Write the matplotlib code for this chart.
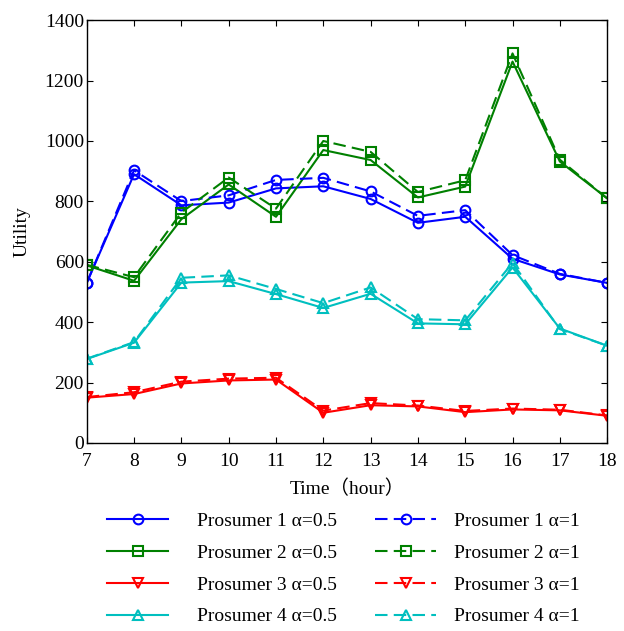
import matplotlib
matplotlib.use('Agg')
import matplotlib.pyplot as plt
import numpy as np

# 시간 (hour)
hours = [7, 8, 9, 10, 11, 12, 13, 14, 15, 16, 17, 18]

# Prosumer utility, alpha = 0.5
p1_a05 = [530, 890, 787, 796, 843, 850, 808, 729, 749, 610, 558, 530]
p2_a05 = [588, 537, 741, 856, 749, 970, 937, 813, 849, 1263, 932, 810]
p3_a05 = [150, 162, 197, 207, 210, 100, 125, 121, 102, 111, 108, 90]
p4_a05 = [278, 332, 531, 536, 493, 447, 494, 396, 393, 581, 379, 322]

# Prosumer utility, alpha = 1
p1_a1 = [530, 903, 801, 820, 871, 878, 833, 752, 771, 622, 560, 530]
p2_a1 = [590, 549, 763, 879, 776, 1000, 964, 831, 870, 1290, 938, 810]
p3_a1 = [152, 168, 203, 213, 216, 107, 132, 124, 106, 114, 110, 91]
p4_a1 = [279, 334, 547, 555, 510, 463, 515, 410, 406, 596, 377, 322]

plt.rcParams['font.family'] = ['Liberation Serif', 'Noto Sans CJK SC']
plt.rcParams['font.size'] = 14

colors = ['#0000ff', '#008000', '#ff0000', '#00bfbf']
markers = ['o', 's', 'v', '^']
solid_series = [p1_a05, p2_a05, p3_a05, p4_a05]
dash_series = [p1_a1, p2_a1, p3_a1, p4_a1]

fig = plt.figure(figsize=(6.24, 6.31), dpi=100)
ax = fig.add_axes([0.139, 0.298, 0.834, 0.670])

solid_handles = []
for i in range(4):
    h, = ax.plot(hours, solid_series[i], color=colors[i], marker=markers[i],
                 markersize=7, markerfacecolor='none', markeredgewidth=1.5,
                 linewidth=1.5, label='Prosumer %d \u03b1=0.5' % (i + 1))
    solid_handles.append(h)
dash_handles = []
for i in range(4):
    h, = ax.plot(hours, dash_series[i], color=colors[i], marker=markers[i],
                 markersize=7, markerfacecolor='none', markeredgewidth=1.5,
                 linewidth=1.5, dashes=(6, 3), label='Prosumer %d \u03b1=1' % (i + 1))
    dash_handles.append(h)

ax.set_xlim(7, 18)
ax.set_ylim(0, 1400)
ax.set_xticks(hours)
ax.set_yticks(np.arange(0, 1401, 200))
ax.tick_params(direction='in', top=True, right=True, length=4, labelsize=14)
ax.tick_params(axis='x', pad=7)
ax.tick_params(axis='y', pad=2)
for s in ax.spines.values():
    s.set_linewidth(1.0)

ax.set_xlabel('Time\uff08hour\uff09', fontsize=14, labelpad=7)
ax.set_ylabel('Utility', fontsize=14, labelpad=10)

# two legend columns, one per alpha
leg_kw = dict(loc='upper left', frameon=False, fontsize=14, borderpad=0,
              borderaxespad=0, handlelength=3.15, labelspacing=0.73, numpoints=1)
leg1 = fig.legend(handles=solid_handles, bbox_to_anchor=(107 / 624, 0.188),
                  handletextpad=1.5, **leg_kw)
leg2 = fig.legend(handles=dash_handles, bbox_to_anchor=(375 / 624, 0.188),
                  handletextpad=0.9, **leg_kw)

fig.savefig('out.png', dpi=100)
